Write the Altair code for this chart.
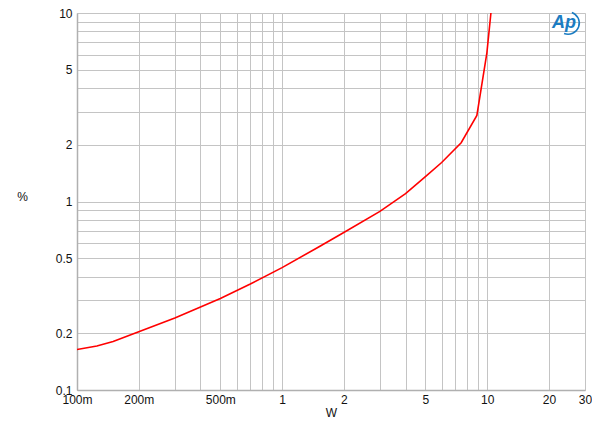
import altair as alt
import pandas as pd

# data
watts = [0.1, 0.125, 0.15, 0.2, 0.3, 0.5, 0.7, 1.0, 1.5, 2.0, 3.0, 4.0, 5.0, 6.0, 7.47, 8.91, 9.97, 10.46]
thd = [0.164, 0.171, 0.181, 0.204, 0.241, 0.306, 0.365, 0.446, 0.572, 0.685, 0.886, 1.10, 1.355, 1.61, 2.05, 2.86, 6.15, 10.3]

x_grid = [0.1, 0.2, 0.3, 0.4, 0.5, 0.6, 0.7, 0.8, 0.9, 1, 2, 3, 4, 5, 6, 7, 8, 9, 10, 20, 30]
x_labeled = [0.1, 0.2, 0.5, 1, 2, 5, 10, 20, 30]
y_grid = [0.1, 0.2, 0.3, 0.4, 0.5, 0.6, 0.7, 0.8, 0.9, 1, 2, 3, 4, 5, 6, 7, 8, 9, 10]
y_labeled = [0.1, 0.2, 0.5, 1, 2, 5, 10]

df = pd.DataFrame({"W": watts, "pct": thd})

xl = "||".join(f"abs(datum.value-{v})<1e-9" for v in x_labeled)
yl = "||".join(f"abs(datum.value-{v})<1e-9" for v in y_labeled)

x_enc = alt.X(
    "W:Q",
    scale=alt.Scale(type="log", domain=[0.1, 30], nice=False),
    axis=alt.Axis(
        values=x_grid, title="W", ticks=False, grid=True,
        gridColor="#c4c4c4", gridWidth=1, domainColor="#b0b0b0", domainWidth=1.5,
        labelExpr=f"({xl}) ? (datum.value < 1 ? format(datum.value*1000, 'd') + 'm' : format(datum.value, 'd')) : ''",
        labelFont="Liberation Sans", labelFontSize=12, labelColor="#111",
        labelPadding=4, labelFlush=False,
        titleFont="Liberation Sans", titleFontSize=12, titleFontWeight="normal",
        titleColor="#111", titlePadding=2,
    ),
)
y_enc = alt.Y(
    "pct:Q",
    scale=alt.Scale(type="log", domain=[0.1, 10], nice=False),
    axis=alt.Axis(
        values=y_grid, title="%", ticks=False, grid=True,
        gridColor="#c4c4c4", gridWidth=1, domainColor="#b0b0b0", domainWidth=1.5,
        labelExpr=f"({yl}) ? format(datum.value, '') : ''",
        labelFont="Liberation Sans", labelFontSize=12, labelColor="#111",
        labelPadding=5, labelFlush=False,
        titleFont="Liberation Sans", titleFontSize=12, titleFontWeight="normal",
        titleColor="#111", titleAngle=0, titleX=-55, titleY=190, titleAlign="center",
    ),
)

line = alt.Chart(df).mark_line(color="#ff0000", strokeWidth=1.6, clip=True).encode(x=x_enc, y=y_enc)

logo = alt.Chart(pd.DataFrame({"t": ["Ap"]})).mark_text(
    font="Liberation Sans", fontSize=18, fontStyle="italic", fontWeight="bold",
    color="#1b7cc2", align="center", baseline="middle",
).encode(x=alt.value(487), y=alt.value(10), text="t:N")

swoosh = alt.Chart(pd.DataFrame({"t": [1]})).mark_arc(
    color="#1b7cc2", radius=12, radius2=10.5, theta=0.35, theta2=3.5,
).encode(x=alt.value(491), y=alt.value(10))

chart = (line + logo + swoosh).properties(
    width=508, height=377,
    autosize=alt.AutoSizeParams(type="none"),
    padding={"left": 69, "top": 5, "right": 7, "bottom": 37},
).configure_view(stroke="#c4c4c4", strokeWidth=1).configure(background="white")

chart.save("out.html", embed_options={"renderer": "svg", "actions": False})
